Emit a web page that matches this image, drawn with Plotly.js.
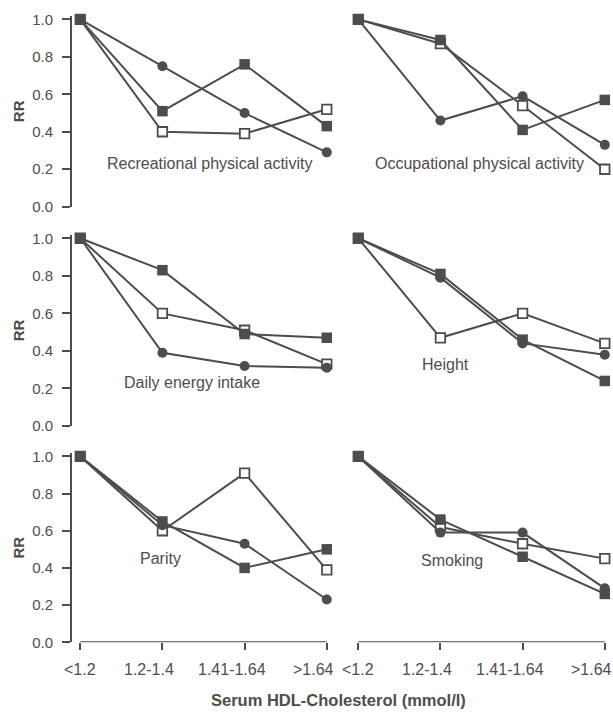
<!DOCTYPE html>
<html>
<head>
<meta charset="utf-8">
<script src="https://cdn.plot.ly/plotly-3.0.1.min.js"></script>
<style>html,body{margin:0;padding:0;background:#fff;}#chart{width:613px;height:713px;}</style>
</head>
<body>
<div id="chart"></div>
<script>
// ---- data ----
var categories = ['<1.2', '1.2-1.4', '1.41-1.64', '>1.64'];
var panelTitles = ['Recreational physical activity', 'Occupational physical activity',
                   'Daily energy intake', 'Height', 'Parity', 'Smoking'];
var yTickVals = [0, 0.2, 0.4, 0.6, 0.8, 1.0];
var yTickText = ['0.0', '0.2', '0.4', '0.6', '0.8', '1.0'];
var xAxisTitle = 'Serum HDL-Cholesterol (mmol/l)';
var yAxisTitle = 'RR';

var recCircle = [1.0, 0.75, 0.50, 0.29];
var recFilledSq = [1.0, 0.51, 0.76, 0.43];
var recOpenSq = [1.0, 0.40, 0.39, 0.52];

var occCircle = [1.0, 0.46, 0.59, 0.33];
var occFilledSq = [1.0, 0.89, 0.41, 0.57];
var occOpenSq = [1.0, 0.87, 0.54, 0.20];

var energyCircle = [1.0, 0.39, 0.32, 0.31];
var energyFilledSq = [1.0, 0.83, 0.49, 0.47];
var energyOpenSq = [1.0, 0.60, 0.51, 0.33];

var heightCircle = [1.0, 0.79, 0.44, 0.38];
var heightFilledSq = [1.0, 0.81, 0.46, 0.24];
var heightOpenSq = [1.0, 0.47, 0.60, 0.44];

var parityCircle = [1.0, 0.63, 0.53, 0.23];
var parityFilledSq = [1.0, 0.65, 0.40, 0.50];
var parityOpenSq = [1.0, 0.60, 0.91, 0.39];

var smokeCircle = [1.0, 0.59, 0.59, 0.29];
var smokeFilledSq = [1.0, 0.66, 0.46, 0.26];
var smokeOpenSq = [1.0, 0.62, 0.53, 0.45];

// ---- styling ----
var INK = '#4d4d4d';
var FONT = 'Liberation Sans, Arial, Helvetica, sans-serif';
var tickLabelShift = [0, -13, -13, -13];   // horizontal offset (px) of each x tick label
var panels = [
  [recCircle, recFilledSq, recOpenSq],
  [occCircle, occFilledSq, occOpenSq],
  [energyCircle, energyFilledSq, energyOpenSq],
  [heightCircle, heightFilledSq, heightOpenSq],
  [parityCircle, parityFilledSq, parityOpenSq],
  [smokeCircle, smokeFilledSq, smokeOpenSq]
];
// annotation positions (category index, value) inside each panel
var titlePos = [[1.567, 0.233], [1.48, 0.233], [1.36, 0.234], [1.056, 0.33], [0.98, 0.452], [1.14, 0.441]];

var xDomains = [[0.1175, 0.5465], [0.571, 1.0]];
var yDomains = [[0.7101, 0.9781], [0.4025, 0.6711], [0.0992, 0.3651]];

var traces = [];
var layout = {
  width: 613, height: 713,
  margin: {l: 0, r: 0, t: 0, b: 0},
  paper_bgcolor: '#fff', plot_bgcolor: '#fff',
  showlegend: false,
  font: {family: FONT, color: INK},
  annotations: [], shapes: []
};

function sfx(i) { return i === 0 ? '' : String(i + 1); }

panels.forEach(function (p, i) {
  var s = sfx(i);
  var xa = 'x' + s, ya = 'y' + s;
  var col = i % 2, row = Math.floor(i / 2);
  var bottom = row === 2, left = col === 0;
  // open square, circle, filled square (filled on top)
  traces.push({x: categories, y: p[2], xaxis: xa, yaxis: ya, type: 'scatter', mode: 'lines+markers',
    cliponaxis: false, line: {color: INK, width: 2},
    marker: {symbol: 'square', size: 9.5, color: '#fff', line: {color: INK, width: 1.8}}});
  traces.push({x: categories, y: p[0], xaxis: xa, yaxis: ya, type: 'scatter', mode: 'lines+markers',
    cliponaxis: false, line: {color: INK, width: 2},
    marker: {symbol: 'circle', size: 10, color: INK, line: {width: 0}}});
  traces.push({x: categories, y: p[1], xaxis: xa, yaxis: ya, type: 'scatter', mode: 'lines+markers',
    cliponaxis: false, line: {color: INK, width: 2},
    marker: {symbol: 'square', size: 10.5, color: INK, line: {width: 0}}});

  layout['xaxis' + s] = {
    type: 'category', categoryorder: 'array', categoryarray: categories,
    domain: xDomains[col], range: [-0.1, 3.1], anchor: ya,
    showgrid: false, zeroline: false, showline: false,
    showticklabels: false, ticks: bottom ? 'outside' : '',
    ticklen: 7, tickwidth: 2, tickcolor: INK
  };
  layout['yaxis' + s] = {
    domain: yDomains[row], range: [0, 1.02], anchor: xa,
    tickvals: yTickVals, ticktext: yTickText,
    showgrid: false, zeroline: false,
    showline: left, linecolor: INK, linewidth: 2,
    showticklabels: left, ticks: left ? 'outside' : '',
    ticklen: 8, tickwidth: 2, tickcolor: INK, ticklabelstandoff: 6,
    tickfont: {family: FONT, size: 15, color: INK}
  };

  layout.annotations.push({text: panelTitles[i], xref: xa, yref: ya,
    x: titlePos[i][0], y: titlePos[i][1], showarrow: false,
    xanchor: 'center', yanchor: 'middle',
    font: {family: FONT, size: 16, color: INK}});

  if (left) {
    layout.annotations.push({text: '<b>' + yAxisTitle + '</b>', xref: 'paper', yref: ya + ' domain',
      x: 18 / 613, y: 0.5, textangle: -90, showarrow: false,
      xanchor: 'center', yanchor: 'middle',
      font: {family: FONT, size: 15, color: INK}});
  }
  if (bottom) {
    layout.shapes.push({type: 'line', xref: xa, yref: ya,
      x0: categories[0], x1: categories[3], y0: 0, y1: 0,
      line: {color: INK, width: 2}});
    categories.forEach(function (c, k) {
      layout.annotations.push({text: c, xref: xa, yref: ya + ' domain',
        x: c, y: 0, xshift: tickLabelShift[k], yshift: -27,
        showarrow: false, xanchor: 'center', yanchor: 'middle',
        font: {family: FONT, size: 16, color: INK}});
    });
  }
});

layout.annotations.push({text: '<b>' + xAxisTitle + '</b>', xref: 'paper', yref: 'paper',
  x: 339 / 613, y: 13 / 713, showarrow: false, xanchor: 'center', yanchor: 'middle',
  font: {family: FONT, size: 16.5, color: INK}});

Plotly.newPlot('chart', traces, layout, {staticPlot: true, displayModeBar: false});
</script>
</body>
</html>
